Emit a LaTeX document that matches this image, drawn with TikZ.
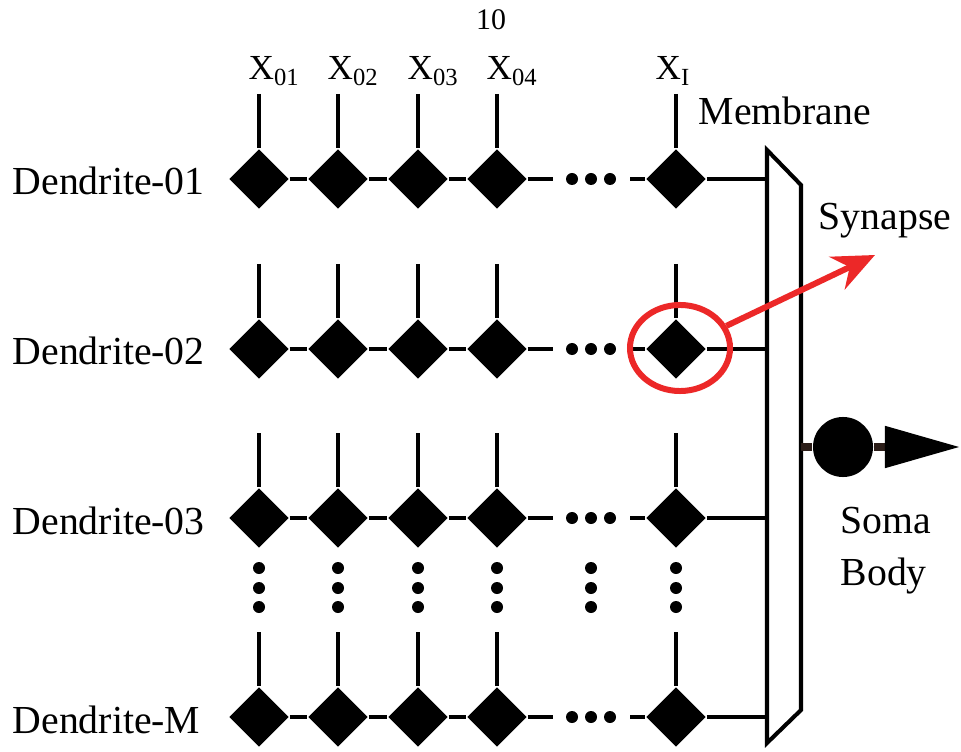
\documentclass[tikz,border=0pt]{standalone}
\usepackage{fontspec}
\setmainfont{Liberation Serif}
\usetikzlibrary{shapes.geometric,arrows.meta}

\definecolor{synred}{RGB}{236,40,40}
\definecolor{axon}{RGB}{43,29,24}

\tikzset{
  syn/.style={diamond,fill=black,inner sep=0pt,minimum width=0.6cm,minimum height=0.6cm},
  wire/.style={line width=1.15pt},
  lbl/.style={font=\fontsize{11.3}{14.8}\selectfont,inner sep=0pt},
  xlbl/.style={font=\fontsize{10}{12}\selectfont,inner sep=0pt,anchor=base west},
  dot/.style={circle,fill=black,inner sep=0pt,minimum size=0.12cm},
}

\begin{document}
\begin{tikzpicture}[x=0.01cm,y=-0.01cm]
\useasboundingbox (0,0) rectangle (961,752);

\node[font=\fontsize{8.5}{10}\selectfont] (page) at (491,20) {10};

% inputs
\node[xlbl] (x01) at (248,80) {X\textsubscript{01}};
\node[xlbl] (x02) at (327,80) {X\textsubscript{02}};
\node[xlbl] (x03) at (407,80) {X\textsubscript{03}};
\node[xlbl] (x04) at (486,80) {X\textsubscript{04}};
\node[xlbl] (xI) at (655,80) {X\textsubscript{I}};

% membrane
\draw[wire,fill=white] (767,150) -- (801,185) -- (801,710) -- (767,743) -- cycle;
\node[lbl,anchor=base west] (memlbl) at (698,125) {Membrane};

% dendrites
\foreach \r/\y/\t in {1/179/01,2/349/02,3/518/03,M/717/M}{
  \node[lbl,anchor=base west] (den-\r) at (12,\y+16) {Dendrite-\t};
  \foreach \c/\x in {1/259,2/338,3/418,4/497,I/676}{
    \node[syn] (d-\r-\c) at (\x,\y) {};
    \coordinate (in-\r-\c) at (\x,\y-85);
    \draw[wire] (in-\r-\c) -- (d-\r-\c.north);
  }
  \draw[wire] (d-\r-1.east) -- (d-\r-2.west);
  \draw[wire] (d-\r-2.east) -- (d-\r-3.west);
  \draw[wire] (d-\r-3.east) -- (d-\r-4.west);
  \coordinate (gapL-\r) at (553,\y);
  \coordinate (gapR-\r) at (630,\y);
  \draw[wire] (d-\r-4.east) -- (gapL-\r);
  \draw[wire] (gapR-\r) -- (d-\r-I.west);
  \foreach \x [count=\k] in {572,591,610}
    \node[dot] (hdot-\r-\k) at (\x,\y) {};
  \coordinate (mem-\r) at (767,\y);
  \draw[wire] (d-\r-I.east) -- (mem-\r);
}

% skipped dendrites
\foreach \x [count=\c] in {259,338,418,497,591,676}
  \foreach \y [count=\k] in {568,588,607}
    \node[dot] (vdot-\c-\k) at (\x,\y) {};

% soma and axon
\coordinate (memout) at (801,447);
\node[circle,fill=black,inner sep=0pt,minimum size=0.6cm] (soma) at (843,447) {};
\coordinate (axonend) at (960,447);
\draw[axon,line width=2.3pt] (memout) -- (soma);
\draw[axon,line width=2.3pt,-{Triangle[length=0.75cm,width=0.4cm,color=black]}] (soma) -- (axonend);
\node[lbl,anchor=base west] (somalbl) at (840,533) {Soma};
\node[lbl,anchor=base west] (bodylbl) at (840,585) {Body};

% highlighted synapse
\node[draw=synred,line width=1.7pt,ellipse,inner sep=0pt,minimum width=1cm,minimum height=0.86cm] (focus) at (680,348) {};
\coordinate (syntip) at (875,255);
\draw[synred,line width=1.7pt,-{Stealth[length=0.42cm,width=0.36cm,inset=0.14cm]}] (focus) -- (syntip);
\node[lbl,anchor=base west] (synlbl) at (818,230) {Synapse};
\end{tikzpicture}
\end{document}
